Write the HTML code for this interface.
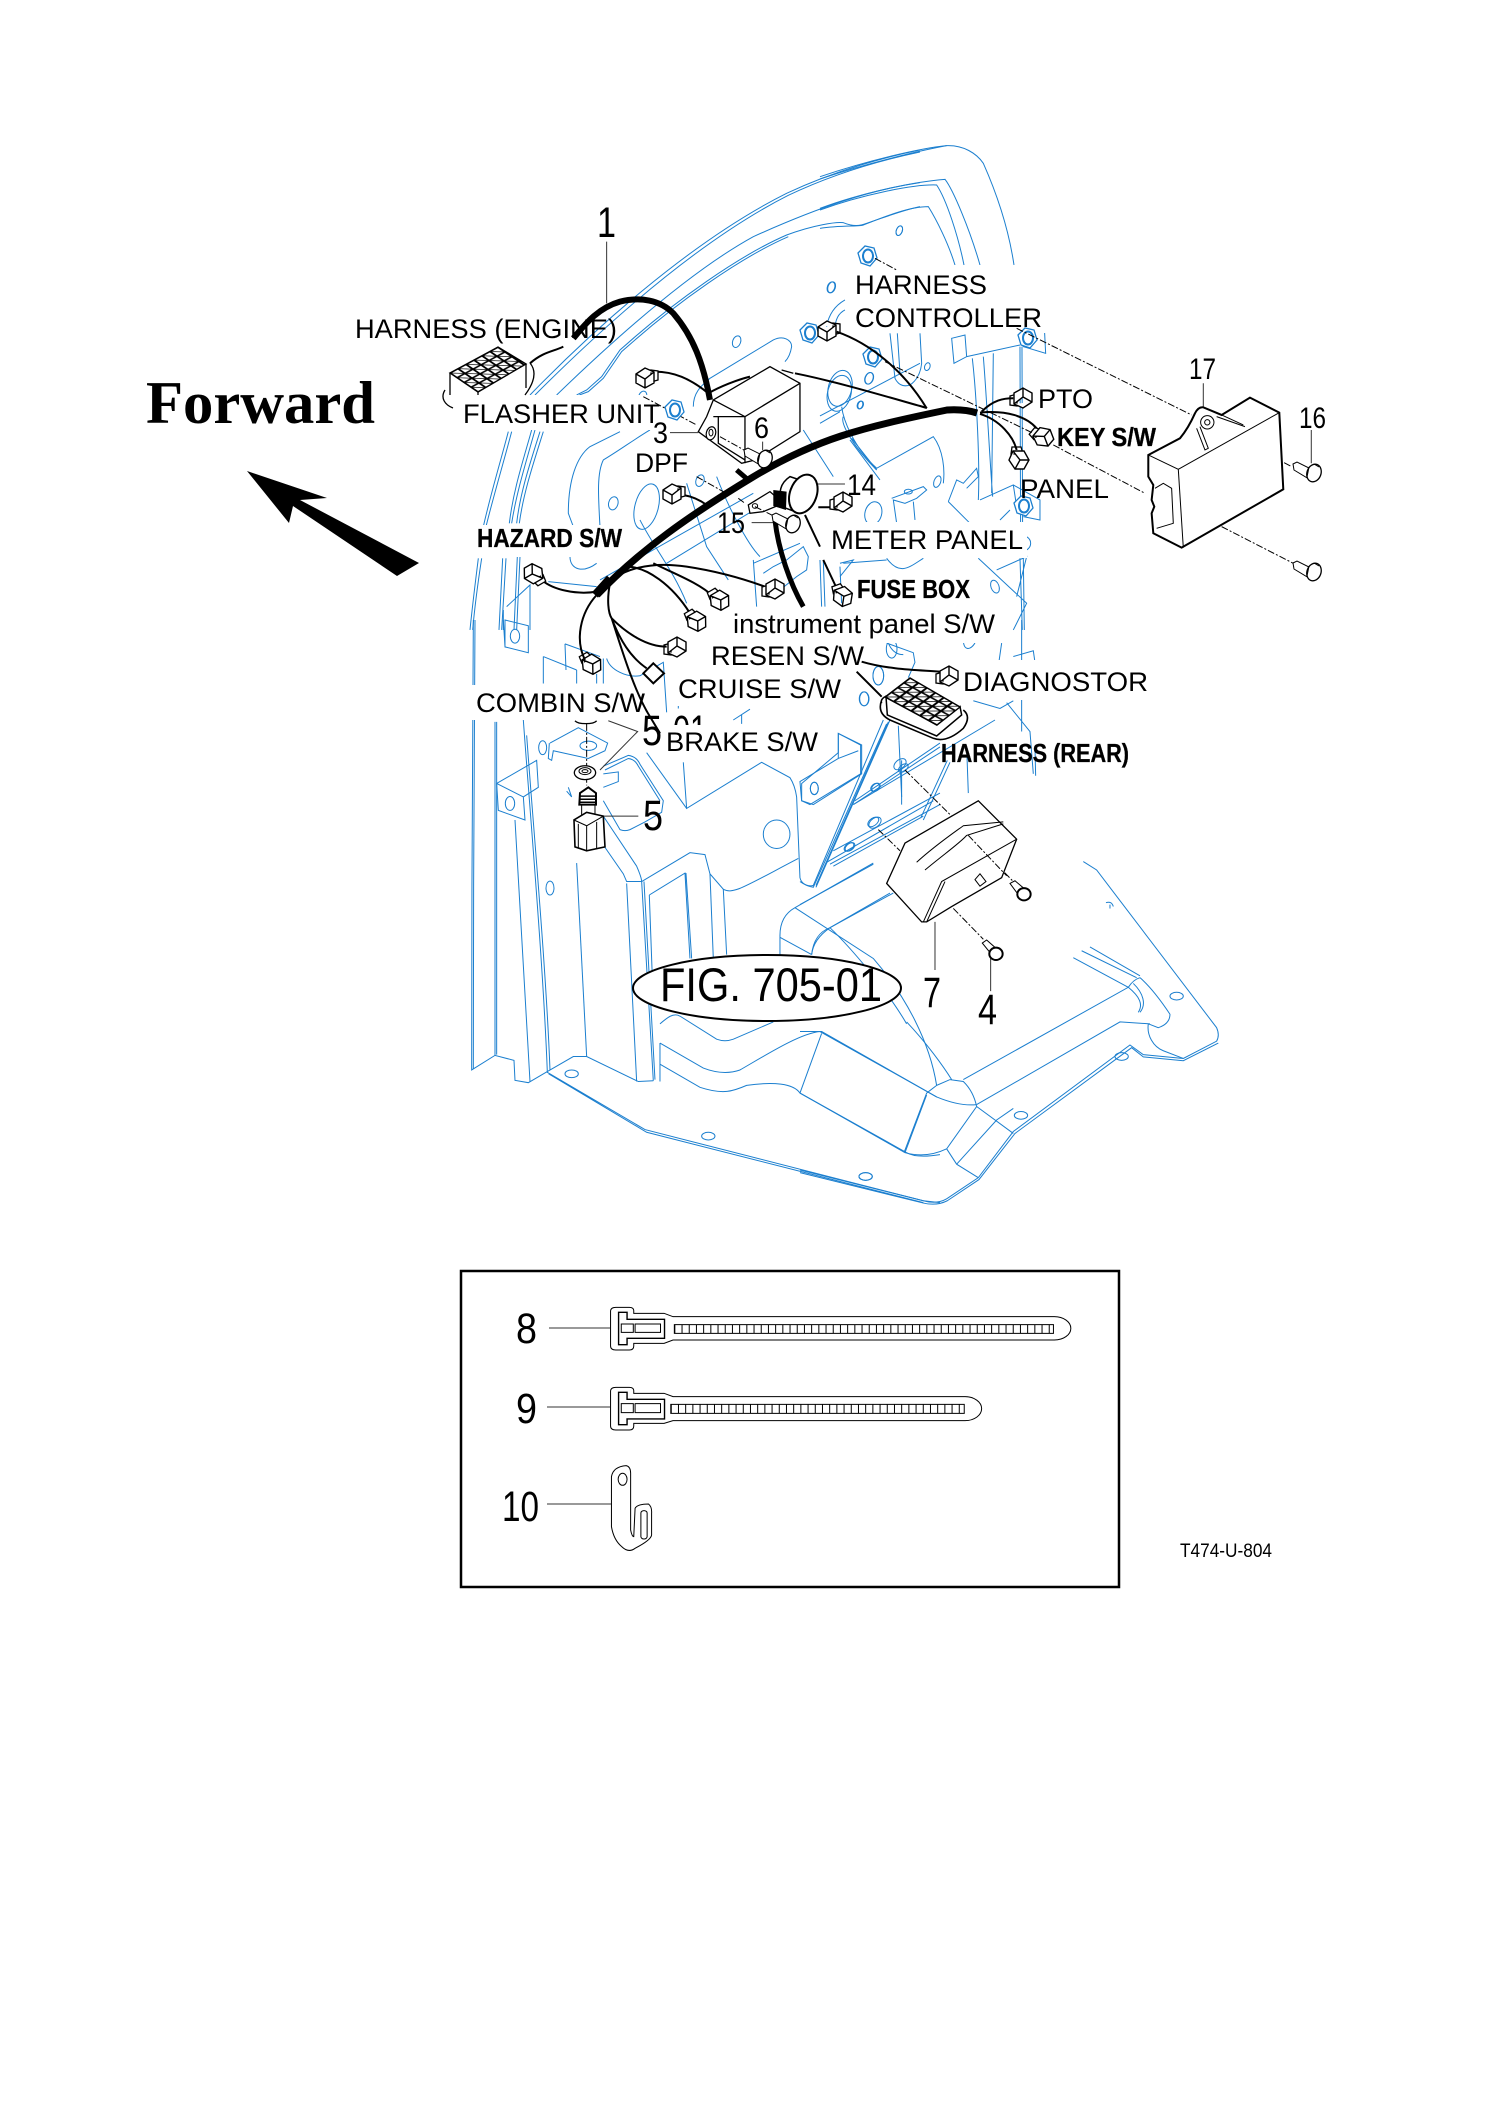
<!DOCTYPE html>
<html><head><meta charset="utf-8"><style>
html,body{margin:0;padding:0;background:#fff}
svg{display:block}
path,line,ellipse,rect,circle,polygon{vector-effect:non-scaling-stroke}
text{font-family:"Liberation Sans",sans-serif;fill:#000}
.b{fill:none;stroke:#1b7fcf;stroke-width:1}
.k{fill:none;stroke:#000;stroke-width:1.3}
.w{fill:none;stroke:#000;stroke-width:2}
.d{fill:none;stroke:#000;stroke-width:1;stroke-dasharray:7 2 2 2}
.l{fill:none;stroke:#333;stroke-width:1}
.m{fill:#fff;stroke:none}
.t{font-size:27px}
.bd{font-size:26px;font-weight:bold;stroke:#000;stroke-width:.3}
.n{font-size:30px}
.N{font-size:43px}
</style></head><body>
<svg xmlns="http://www.w3.org/2000/svg" width="1500" height="2123" viewBox="0 0 1500 2123">
<defs>
<pattern id="g1" patternUnits="userSpaceOnUse" width="10" height="10" patternTransform="matrix(.8,-.43,.7,.475,450,373)"><rect width="10" height="10" fill="#fff" stroke="#000" stroke-width="2.2"/><path d="M0,0L10,10" stroke="#000" stroke-width="1.1"/></pattern>
<pattern id="g2" patternUnits="userSpaceOnUse" width="10" height="10" patternTransform="matrix(.87,.47,.625,-.475,885,697)"><rect width="10" height="10" fill="#fff" stroke="#000" stroke-width="2.2"/><path d="M0,0L10,10" stroke="#000" stroke-width="1.1"/></pattern>
<g id="cube"><path d="M6,-7L13,-6V3L6,5Z" fill="#fff" stroke="#000" stroke-width="1.3"/><path d="M-9,-3L0,-9L9,-5V6L0,11L-9,6Z M-9,-3L0,2L9,-5 M0,2V11" fill="#fff" stroke="#000" stroke-width="1.4"/></g>
<g id="nut"><path d="M-9,-3L-2,-10L7,-8L10,2L3,10L-6,7Z" fill="#fff" stroke="#1b7fcf" stroke-width="1.3"/><ellipse cx="1" cy="0" rx="5" ry="6.5" fill="none" stroke="#1b7fcf" stroke-width="2"/></g>
<g id="bolt"><path d="M-18,-9L-14,-11L2,-3L-2,6L-17,-3Z" fill="#fff" stroke="#000" stroke-width="1"/><ellipse cx="3" cy="0" rx="7" ry="9" transform="rotate(20 3 0)" fill="#fff" stroke="#000" stroke-width="1.3"/><path d="M-2,-6L-4,4 M3,-9L8,-6" stroke="#000" stroke-width="1"/></g>
</defs>

<!-- BLUE: upper left -->
<g transform="matrix(.3333,0,0,.3333,420,130)" class="b">
<path d="M330,795C500,620 800,340 1100,190C1250,120 1400,80 1500,60"/>
<path d="M345,795C510,630 810,345 1105,196C1250,127 1400,87 1500,66"/>
<path d="M410,795C560,650 800,430 1000,320C1200,230 1350,180 1500,158"/>
<path d="M470,795L500,780L545,740L600,660L640,625C760,520 950,380 1100,315C1180,285 1250,275 1270,278C1300,290 1320,288 1340,280C1400,260 1450,240 1500,230"/>
<path d="M478,795L505,785L550,745L605,665L645,630C765,525 955,385 1105,320"/>
<ellipse cx="1438" cy="302" rx="9" ry="15" transform="rotate(20 1438 302)"/>
<ellipse cx="1235" cy="472" rx="11" ry="17" transform="rotate(20 1235 472)"/>
<ellipse cx="950" cy="635" rx="12" ry="18" transform="rotate(20 950 635)"/>
<ellipse cx="668" cy="800" rx="12" ry="17" transform="rotate(20 668 800)"/>
<ellipse cx="1320" cy="825" rx="8" ry="12" transform="rotate(20 1320 825)"/>
<ellipse cx="1347" cy="745" rx="12" ry="18" transform="rotate(20 1347 745)"/>
<ellipse cx="840" cy="1052" rx="12" ry="18" transform="rotate(20 840 1052)"/>
<ellipse cx="580" cy="1120" rx="14" ry="20" transform="rotate(15 580 1120)"/>
<path d="M820,830C820,790 840,770 870,745L1060,630C1090,615 1115,630 1115,650Q1110,680 1095,695"/>
<path d="M1275,510C1240,530 1225,560 1220,590M1275,540C1255,550 1245,570 1245,600"/>
<ellipse cx="1258" cy="790" rx="35" ry="55" transform="rotate(15 1258 790)"/>
<path d="M1200,858L1500,700M1270,860C1260,880 1300,950 1370,1020M1150,900L1240,1040M1290,930L1380,1050"/>
<path d="M275,905C250,1000 220,1100 198,1190M265,905C240,1000 210,1100 190,1190M335,900C310,990 280,1080 268,1180M345,900C320,990 290,1085 275,1180M370,905C340,1000 310,1090 298,1180M360,905C330,1000 300,1090 290,1180"/>
<path d="M185,1285C175,1350 165,1420 158,1500M175,1285C167,1350 158,1420 150,1500M258,1285L245,1500M248,1285L237,1500M300,1280L290,1500M292,1280L282,1500"/>
<path d="M600,905L510,950C470,980 445,1050 445,1150L460,1190M690,900C640,930 600,960 550,990C530,1030 535,1100 540,1190"/>
<path d="M450,1280C450,1320 490,1330 530,1300"/>
<ellipse cx="680" cy="1130" rx="35" ry="70" transform="rotate(15 680 1130)"/>
<path d="M660,1170C700,1250 760,1320 800,1420M540,1350L1000,1090M740,1300L1150,1050M1000,1290L1010,1430M1000,1300L1140,1240M890,1040C920,1120 980,1240 1020,1280M1030,1330L1060,1310L1100,1290L1150,1250L1165,1280L1160,1320L1130,1340L1080,1380M800,1060L860,1250L925,1350"/>
<path d="M260,1430L330,1365L330,1500M250,1440L250,1500M385,1355L530,1370M1210,1290L1215,1430M1200,1290L1205,1430M1270,1300L1400,1290M1260,1310L1265,1420"/>
</g>

<!-- BLUE: upper right -->
<g transform="matrix(.3333,0,0,.3333,820,130)" class="b">
<path d="M0,140C150,90 300,55 380,47C430,45 470,70 490,100C530,190 565,290 582,405"/>
<path d="M0,147C150,97 300,62 380,47"/>
<path d="M0,235C120,190 280,155 375,148C400,180 450,300 480,405M0,240C120,196 280,162 350,165C380,210 415,320 432,405"/>
<path d="M0,295C60,285 120,290 130,285C170,270 260,230 325,230C350,270 385,340 405,405"/>
<ellipse cx="238" cy="302" rx="9" ry="15" transform="rotate(20 238 302)"/>
<ellipse cx="33" cy="472" rx="11" ry="17" transform="rotate(20 33 472)"/>
<ellipse cx="148" cy="745" rx="12" ry="18" transform="rotate(20 148 745)"/>
<ellipse cx="122" cy="825" rx="8" ry="12" transform="rotate(20 122 825)"/>
<ellipse cx="322" cy="710" rx="8" ry="12" transform="rotate(20 322 710)"/>
<ellipse cx="60" cy="775" rx="35" ry="55" transform="rotate(15 60 775)"/>
<path d="M605,565L673,590L677,670L610,650L600,600ZM395,625L435,615L440,680L402,700ZM440,680L600,645M457,685C470,800 480,1000 475,1110M490,680C500,800 510,1000 518,1100M520,670L515,1090M600,650L602,1240M606,650L608,1240"/>
<path d="M210,610L225,745Q240,775 270,765Q300,745 305,700L300,610M232,610L240,730"/>
<path d="M65,830C70,870 100,950 170,1015L340,920C370,960 375,1020 370,1060M95,925L170,1020M0,880L60,845"/>
<path d="M215,1105L310,1070L320,1080L290,1105L255,1120L220,1110L230,1180M280,1115L285,1170"/>
<ellipse cx="265" cy="1085" rx="12" ry="7"/>
<ellipse cx="352" cy="1055" rx="10" ry="18" transform="rotate(20 352 1055)"/>
<ellipse cx="160" cy="1150" rx="25" ry="35" transform="rotate(15 160 1150)"/>
<path d="M480,1110L580,1065L660,1110L660,1170L610,1160M580,1065L590,1130M540,1170L570,1140M385,1115L410,1050L430,1060L470,1015L475,1040L440,1075M385,1115L450,1180"/>
<circle cx="610" cy="1240" r="22"/>
<path d="M475,1285L620,1420L580,1500M530,1320L620,1280L590,1400M60,1300L100,1290L60,1340M200,1285C240,1340 270,1310 310,1285M600,1285L607,1500M610,1285L613,1500"/>
<ellipse cx="525" cy="1370" rx="12" ry="20" transform="rotate(-20 525 1370)"/>
<path d="M495,1500L510,1490"/>
</g>

<!-- BLUE: lower left -->
<g transform="matrix(.3333,0,0,.3846,440,620)" class="b">
<path d="M100,0C97,300 95,800 95,1170L165,1132L222,1145L225,1197L265,1203L320,1175L400,1135L440,1135L595,1200L640,1198"/>
<path d="M105,0C102,300 100,800 100,1167"/>
<path d="M165,265L165,1132M170,265V1130"/>
<path d="M195,0L265,15L265,85L195,70ZM190,0L195,70"/>
<ellipse cx="225" cy="42" rx="14" ry="18"/>
<path d="M170,425L290,365L295,435L250,460L255,520L175,495ZM170,425L250,460"/>
<ellipse cx="210" cy="477" rx="14" ry="18"/>
<path d="M250,260C270,500 310,900 322,1175M260,300C280,540 318,900 330,1170M225,520L270,1200"/>
<ellipse cx="330" cy="697" rx="12" ry="18"/><ellipse cx="308" cy="332" rx="12" ry="18"/>
<path d="M375,62L480,95M310,95L310,165M310,95L410,130M375,62L378,130M410,130V165M490,100V165M470,140V165"/>
<path d="M500,100C510,130 560,150 600,145L670,110L680,240M715,150V230"/>
<path d="M330,320L415,280L503,320L495,340L445,360L340,340L335,365L325,360L328,320"/>
<ellipse cx="445" cy="327" rx="25" ry="12"/>
<path d="M490,380L565,352Q590,355 600,375L670,470L665,500L615,525L570,545Q555,550 540,545L490,470M495,390L565,360Q585,362 595,380L660,470"/>
<path d="M490,400L535,395V420L490,435"/>
<path d="M385,435L395,460L380,445"/>
<path d="M490,510L590,640Q605,670 605,680H560Q555,670 550,660L490,585"/>
<path d="M605,680L750,605L795,610L810,660L850,700C880,715 920,690 1075,620M730,370L740,490L965,370L1050,410Q1065,430 1070,460L1080,670Q1085,690 1120,695L1340,270M1128,695L1350,260"/>
<path d="M620,345L740,490"/>
<ellipse cx="1010" cy="557" rx="40" ry="37"/>
<path d="M1080,420L1195,360V295L1262,325V400L1110,480L1085,470ZM1195,360L1255,340"/>
<ellipse cx="1123" cy="438" rx="12" ry="16"/>
<path d="M560,685L590,1200M605,680L640,1198M612,680L645,1195M628,715L735,658L750,880M738,658L755,880M628,715L640,1000M810,660L820,880M850,700L860,870"/>
<path d="M410,632L440,1135"/>
<path d="M660,1050C680,1035 700,1020 720,1030L830,1090Q855,1098 880,1090L1000,1045"/>
<path d="M660,1100V1200M660,1100L790,1165Q850,1185 900,1170C980,1130 1080,1075 1140,1070L1490,1240"/>
<path d="M660,1155L780,1215C850,1235 880,1225 920,1210C1000,1200 1060,1205 1080,1230L1400,1385Q1430,1400 1500,1390"/>
<path d="M1145,1075L1080,1230M1460,1235L1395,1385"/>
<path d="M1020,870V820C1020,780 1040,760 1065,748L1300,632M1065,748L1300,880C1400,980 1470,1100 1490,1210"/>
<path d="M1115,870C1120,830 1140,810 1170,800L1360,710M1170,800C1230,850 1340,960 1400,1050M1020,825L1115,870"/>
<path d="M320,1175L615,1325L1450,1510L1500,1515M326,1180L620,1332L1450,1515"/>
<ellipse cx="395" cy="1180" rx="20" ry="10"/><ellipse cx="805" cy="1342" rx="20" ry="10"/><ellipse cx="1277" cy="1447" rx="20" ry="10"/>
<path d="M1240,480L1500,330M1245,470L1500,320M1180,600L1500,450M1170,635L1500,480"/>
<ellipse cx="1300" cy="525" rx="18" ry="10" transform="rotate(-30 1300 525)"/><ellipse cx="1230" cy="590" rx="16" ry="9" transform="rotate(-30 1230 590)"/><ellipse cx="1390" cy="385" rx="16" ry="9" transform="rotate(-30 1390 385)"/><ellipse cx="1308" cy="435" rx="14" ry="9" transform="rotate(-30 1308 435)"/><ellipse cx="1272" cy="205" rx="14" ry="18"/><ellipse cx="1315" cy="145" rx="16" ry="24"/>
<path d="M880,260L930,232M905,245V270M1385,365V480"/>
<path d="M1340,60L1420,85L1425,110L1405,150M1345,60Q1360,90 1390,90"/>
</g>

<!-- BLUE: lower right -->
<g transform="matrix(.3333,0,0,.3846,800,620)" class="b">
<path d="M0,1430L370,1510Q410,1520 440,1505L535,1450L640,1330L990,1105L1030,1130L1150,1140L1250,1095Q1260,1080 1250,1060L890,650L850,628"/>
<path d="M0,1437L370,1516Q410,1524 442,1510L537,1455L645,1335L995,1112L1030,1136L1150,1146L1255,1100"/>
<path d="M490,1195L985,955Q1000,935 1020,930M820,878L985,955M845,860L1010,930M870,850L1020,925"/>
<path d="M530,1260L960,1045L1050,1050M1020,930Q1060,960 1110,1025Q1110,1050 1075,1060L1045,1050C1040,1080 1060,1110 1090,1120L1150,1140"/>
<path d="M985,955C1020,980 1030,1000 1015,1020M1000,945C1030,970 1040,1000 1020,1020"/>
<path d="M410,1210L450,1195L490,1200Q520,1225 530,1265L440,1375L470,1415L535,1450M440,1375Q380,1400 315,1385L0,1230M380,1230L312,1385M0,1070L65,1070L410,1240Q480,1265 530,1260M530,1265L640,1335M470,1415L590,1300L640,1270M410,1210L380,1230"/>
<ellipse cx="1130" cy="978" rx="20" ry="10"/><ellipse cx="965" cy="1135" rx="20" ry="10"/><ellipse cx="663" cy="1288" rx="20" ry="10"/><ellipse cx="197" cy="1447" rx="20" ry="10"/>
<path d="M918,735Q935,730 940,745M930,740V750"/>
<path d="M35,870Q40,830 90,800L270,710M320,1045C380,1100 430,1160 455,1195"/>
<path d="M0,740L220,635"/>
<path d="M250,260L40,690Q25,695 0,680M265,265L48,690"/>
<path d="M160,480L585,260M80,630L400,470M100,640L370,510M295,275L305,460M500,330L505,450M705,330L707,405M370,520L450,370M362,515L442,365"/>
<path d="M5,425L115,345V295L185,325V400L40,480L5,470Z"/>
<ellipse cx="43" cy="438" rx="12" ry="16"/>
<ellipse cx="300" cy="375" rx="20" ry="12" transform="rotate(-30 300 375)"/>
<ellipse cx="225" cy="527" rx="20" ry="12" transform="rotate(-30 225 527)"/>
<ellipse cx="147" cy="590" rx="16" ry="9" transform="rotate(-30 147 590)"/>
<ellipse cx="225" cy="435" rx="14" ry="9" transform="rotate(-30 225 435)"/>
<ellipse cx="275" cy="75" rx="16" ry="24"/><ellipse cx="235" cy="145" rx="16" ry="24"/><ellipse cx="193" cy="205" rx="14" ry="18"/>
<path d="M665,0V290M605,60L595,120M640,95L700,80L705,110M620,215L690,290L700,400M520,210L600,230L640,210M490,50C490,80 510,80 525,60"/>
</g>

<!-- label masks -->
<rect class="m" x="453" y="395" width="210" height="35"/>
<rect class="m" x="475" y="525" width="152" height="32"/>
<rect class="m" x="632" y="450" width="60" height="28"/>
<rect class="m" x="822" y="522" width="205" height="36"/>
<rect class="m" x="853" y="575" width="122" height="32"/>
<rect class="m" x="730" y="607" width="270" height="36"/>
<rect class="m" x="708" y="643" width="160" height="30"/>
<rect class="m" x="675" y="672" width="170" height="34"/>
<rect class="m" x="472" y="685" width="190" height="35"/>
<rect class="m" x="852" y="265" width="195" height="68"/>
<rect class="m" x="960" y="660" width="192" height="40"/>

<!-- Forward -->
<text x="146" y="423" font-size="60" font-weight="bold" style="font-family:'Liberation Serif',serif" textLength="229" lengthAdjust="spacingAndGlyphs">Forward</text>
<polygon points="247,471 327,498 300,500 419,563 397,576 293,506 289,523" fill="#000"/>

<!-- engine connector -->
<path d="M450,373V395M478,392V395M526,364V388" class="k"/>
<path d="M530,363Q540,375 525,395M445,390C440,398 445,405 453,408" class="k"/>
<polygon points="450,373 498,347 526,364 478,392" fill="url(#g1)" stroke="#000" stroke-width="1.4"/>

<!-- black wiring upper -->
<g transform="matrix(.3333,0,0,.3333,420,130)">
<path class="w" d="M430,650C400,665 370,665 330,700"/>
<path d="M870,810C850,700 820,620 760,550C720,510 660,500 600,515C530,535 490,590 460,625" fill="none" stroke="#000" stroke-width="6"/>
<path class="w" d="M705,725C760,725 810,745 865,790C900,770 950,750 990,740"/>
<path class="w" d="M1125,730C1250,755 1400,800 1521,834"/>
<path class="w" d="M790,1095C820,1100 840,1110 860,1125"/>
<path class="w" d="M365,1350C400,1380 470,1395 530,1385"/>
<path class="w" d="M545,1380C600,1310 700,1295 800,1310C900,1325 980,1350 1035,1370"/>
<path class="w" d="M700,1300C760,1330 840,1360 880,1400"/>
<path class="w" d="M610,1310C680,1305 760,1370 810,1450"/>
<path class="w" d="M1155,1155L1200,1250M1210,1290L1255,1385M1195,1132H1240"/>
<path class="k" d="M880,810L1050,710L1140,760V905L1005,990L965,1000L835,905L860,860ZM880,810L975,860L1140,760M975,860V1000M880,860H975M895,860V940L975,990M1085,720L1120,730" style="fill:#fff"/>
<ellipse cx="873" cy="910" rx="14" ry="20" fill="#fff" stroke="#000" stroke-width="1.2" transform="rotate(15 873 910)"/>
<ellipse cx="873" cy="908" rx="6" ry="10" fill="none" stroke="#000"/>
<path class="d" d="M670,800L830,885M900,920L990,970"/>
<path class="l" d="M750,908H835M1028,935V960M560,335V520M1190,1062H1275M995,1178H1085"/>
<path d="M525,1395L570,1345" fill="none" stroke="#000" stroke-width="8"/>
<path d="M950,1020L985,1050" fill="none" stroke="#000" stroke-width="5"/>
<path class="d" d="M830,1040L910,1085M955,1105L975,1120"/>
<path d="M1065,1170C1075,1260 1110,1360 1150,1430" fill="none" stroke="#000" stroke-width="5"/>
<path class="k" d="M985,1125L1050,1085L1090,1120L1030,1145L990,1150Z" style="fill:#fff"/>
<ellipse cx="1005" cy="1128" rx="8" ry="7" fill="none" stroke="#000"/>
<path d="M1110,1040C1080,1060 1075,1085 1085,1130L1125,1145L1170,1060Z" fill="#fff" stroke="#000" stroke-width="1.5"/>
<path d="M1060,1080L1100,1085L1098,1140L1060,1128Z" fill="#000"/>
<ellipse cx="1150" cy="1092" rx="40" ry="60" fill="#fff" stroke="#000" stroke-width="2" transform="rotate(20 1150 1092)"/>
<path class="d" d="M1005,1130L1085,1170"/>
</g>
<!-- main harness trunk -->
<path d="M597,595C640,550 690,515 753,477S860,428 947,410Q965,409 977,413" fill="none" stroke="#000" stroke-width="7"/>
<use href="#nut" x="867" y="256"/><use href="#nut" x="809" y="333"/><use href="#nut" x="872" y="357"/><use href="#nut" x="674" y="410"/>
<use href="#nut" x="1027" y="338"/><use href="#nut" x="1023" y="506"/>
<use href="#bolt" x="762" y="459"/><use href="#bolt" x="790" y="524"/>
<use href="#cube" transform="translate(645,377)"/><use href="#cube" transform="translate(672,493)"/><use href="#cube" transform="translate(827,330)"/><use href="#cube" transform="translate(534,573) rotate(60)"/><use href="#cube" transform="translate(775,590) rotate(180)"/><use href="#cube" transform="translate(719,601) rotate(240)"/><use href="#cube" transform="translate(696,622) rotate(240)"/><use href="#cube" transform="translate(842,597) rotate(250)"/><use href="#cube" transform="translate(843,503) rotate(180)"/>
<use href="#cube" transform="translate(1023,399) rotate(180)"/><use href="#cube" transform="translate(1043,438) rotate(220)"/><use href="#cube" transform="translate(1018,460) rotate(270)"/>
<use href="#cube" transform="translate(591,665) rotate(240)"/><use href="#cube" transform="translate(677,648) rotate(180)"/><use href="#cube" transform="translate(949,677) rotate(180)"/>

<!-- upper right black -->
<g transform="matrix(.3333,0,0,.3333,820,130)">
<path class="w" d="M50,605C150,640 250,720 320,835"/>
<path class="w" d="M485,845C520,810 550,805 580,805M480,848C560,840 620,860 650,895M480,852C540,870 580,920 590,960"/>
<path class="d" d="M195,695L640,910M700,945L975,1090M590,595L1115,855M1185,890L1415,1010M1205,1190L1420,1300M165,385L230,420"/>
<path d="M985,975L1080,925Q1105,895 1125,850Q1135,830 1150,832L1205,855L1290,803L1378,848L1390,1078L1085,1253L1000,1210L995,1150L1003,1130L995,1110L1000,1065L985,1040Z" fill="#fff" stroke="#000" stroke-width="2"/>
<path class="k" style="stroke-width:1" d="M985,975L1075,1018L1378,848M1075,1018L1090,1253M1005,1075L1030,1060L1055,1075L1060,1180L1010,1195M1130,895L1155,960L1165,955L1140,890M1190,860L1275,890M1205,855L1270,885"/>
<circle cx="1162" cy="877" r="20" fill="none" stroke="#000"/><circle cx="1162" cy="877" r="8" fill="none" stroke="#000"/>
<path class="l" d="M1150,760V830M1474,900V1000"/>
</g>
<use href="#bolt" x="1311" y="473"/><use href="#bolt" x="1311" y="572"/>

<!-- left wires -->
<g transform="matrix(.3333,0,0,.3333,460,500)">
<path class="w" d="M410,285C360,340 345,420 375,480M450,250C440,300 445,340 455,355C500,400 560,440 620,440M455,355C480,420 510,470 560,505M455,355C480,430 520,570 570,650L600,700"/>
<path d="M580,490L612,520L580,550L550,520Z" fill="#fff" stroke="#000" stroke-width="2"/>
</g>

<!-- rear connector -->
<g transform="matrix(.3333,0,0,.3333,780,480)">
<path class="w" d="M230,575L305,650M245,545C330,570 420,570 480,575"/>
<path class="k" d="M305,660Q290,700 330,720L460,775Q500,790 550,745Q575,710 550,690M315,650Q300,660 305,670" style="stroke-width:1.6"/>
<path d="M318,650L322,705L470,768L545,705L540,680L470,735Z" fill="#fff" stroke="#000" stroke-width="1.5"/>
</g>
<polygon points="885,697 910,678 960,707 937,725" fill="url(#g2)" stroke="#000" stroke-width="1.4"/>

<!-- fitting & ECU -->
<g transform="matrix(.3333,0,0,.3846,440,620)">
<path class="d" d="M440,270V380M440,405V430"/>
<path class="k" d="M405,262C415,272 460,272 470,262"/>
<path class="l" d="M505,262L593,290L480,390M490,510H595"/>
<ellipse cx="435" cy="397" rx="32" ry="18" fill="#fff" stroke="#000" stroke-width="1.3"/>
<ellipse cx="435" cy="393" rx="18" ry="9" fill="none" stroke="#000"/>
<ellipse cx="435" cy="393" rx="9" ry="4" fill="none" stroke="#000"/>
<path d="M420,450L445,435L468,450V480H418Z" fill="#fff" stroke="#000" stroke-width="2"/>
<path d="M420,458H468M420,466H468M420,474H468" stroke="#000" stroke-width="1.5" fill="none"/>
<path d="M425,480V510H465V480" fill="none" stroke="#000"/>
<path d="M402,520L440,500L490,510L495,590L440,600L405,590Z" fill="#fff" stroke="#000" stroke-width="1.6"/>
<path d="M402,520L440,535L490,510M440,535V600M415,530V592M470,525V595" fill="none" stroke="#000"/>
</g>
<g transform="matrix(.3333,0,0,.3846,800,620)">
<path class="d" d="M315,390L490,540M505,560L640,680M235,545L300,600M460,750L550,830"/>
<path d="M260,685L315,580L535,470L650,570L605,670L455,745L380,785H365Z" fill="#fff" stroke="#000" stroke-width="1.3"/>
<path class="k" style="stroke-width:1" d="M370,785L425,680L650,570M380,785L435,680M350,630C400,590 450,560 490,535L610,525M375,650C430,610 480,580 500,560L610,530M525,675L540,660L558,680L540,692Z"/>
<path class="d" d="M505,560L620,665"/>
<path class="l" d="M405,785V910M572,880V965"/>
<path d="M630,685L645,678L675,700L660,720Z" fill="#fff" stroke="#000"/>
<ellipse cx="672" cy="713" rx="20" ry="16" fill="#fff" stroke="#000" stroke-width="2"/>
<path d="M547,840L560,832L590,855L575,870Z" fill="#fff" stroke="#000"/>
<ellipse cx="588" cy="868" rx="20" ry="16" fill="#fff" stroke="#000" stroke-width="2"/>
</g>

<!-- 5-01 partial then BRAKE mask -->
<text class="N" x="673" y="745" textLength="34" lengthAdjust="spacingAndGlyphs">01</text>
<rect class="m" x="665" y="725" width="156" height="34"/>

<!-- FIG -->
<ellipse cx="767" cy="988" rx="134" ry="33" fill="#fff" stroke="#000" stroke-width="2"/>
<text x="660" y="1001" font-size="47" textLength="222" lengthAdjust="spacingAndGlyphs">FIG. 705-01</text>

<!-- labels -->
<text class="t" x="355" y="338" textLength="262" lengthAdjust="spacingAndGlyphs">HARNESS (ENGINE)</text>
<text class="t" x="463" y="423" textLength="197" lengthAdjust="spacingAndGlyphs">FLASHER UNIT</text>
<text class="t" x="635" y="472" textLength="53" lengthAdjust="spacingAndGlyphs">DPF</text>
<text class="bd" x="477" y="547" textLength="145" lengthAdjust="spacingAndGlyphs">HAZARD S/W</text>
<text class="t" x="831" y="549" textLength="192" lengthAdjust="spacingAndGlyphs">METER PANEL</text>
<text class="bd" x="857" y="598" textLength="113" lengthAdjust="spacingAndGlyphs">FUSE BOX</text>
<text class="t" x="733" y="633" textLength="262" lengthAdjust="spacingAndGlyphs">instrument panel S/W</text>
<text class="t" x="711" y="665" textLength="153" lengthAdjust="spacingAndGlyphs">RESEN S/W</text>
<text class="t" x="678" y="698" textLength="163" lengthAdjust="spacingAndGlyphs">CRUISE S/W</text>
<text class="t" x="476" y="712" textLength="169" lengthAdjust="spacingAndGlyphs">COMBIN S/W</text>
<text class="t" x="666" y="751" textLength="152" lengthAdjust="spacingAndGlyphs">BRAKE S/W</text>
<text class="t" x="963" y="691" textLength="185" lengthAdjust="spacingAndGlyphs">DIAGNOSTOR</text>
<text class="bd" x="941" y="762" textLength="188" lengthAdjust="spacingAndGlyphs">HARNESS (REAR)</text>
<text class="t" x="855" y="294" textLength="132" lengthAdjust="spacingAndGlyphs">HARNESS</text>
<text class="t" x="855" y="327" textLength="187" lengthAdjust="spacingAndGlyphs">CONTROLLER</text>
<text class="t" x="1038" y="408" textLength="55" lengthAdjust="spacingAndGlyphs">PTO</text>
<text class="bd" x="1057" y="446" textLength="99" lengthAdjust="spacingAndGlyphs">KEY S/W</text>
<text class="t" x="1020" y="498" textLength="89" lengthAdjust="spacingAndGlyphs">PANEL</text>

<!-- numbers -->
<text class="N" x="597" y="237" textLength="19" lengthAdjust="spacingAndGlyphs">1</text>
<text class="n" x="653" y="443" textLength="15" lengthAdjust="spacingAndGlyphs">3</text>
<text class="n" x="754" y="438" textLength="15" lengthAdjust="spacingAndGlyphs">6</text>
<text class="n" x="847" y="495" textLength="29" lengthAdjust="spacingAndGlyphs">14</text>
<text class="n" x="717" y="533" textLength="28" lengthAdjust="spacingAndGlyphs">15</text>
<text class="n" x="1189" y="379" textLength="27" lengthAdjust="spacingAndGlyphs">17</text>
<text class="n" x="1299" y="428" textLength="27" lengthAdjust="spacingAndGlyphs">16</text>
<text class="N" x="642" y="745" textLength="20" lengthAdjust="spacingAndGlyphs">5</text>
<text class="N" x="643" y="830" textLength="20" lengthAdjust="spacingAndGlyphs">5</text>
<text class="N" x="923" y="1007" textLength="18" lengthAdjust="spacingAndGlyphs">7</text>
<text class="N" x="978" y="1024" textLength="19" lengthAdjust="spacingAndGlyphs">4</text>

<!-- parts box -->
<rect x="461" y="1271" width="658" height="316" fill="none" stroke="#000" stroke-width="2.5"/>
<text class="N" x="516" y="1343" textLength="21" lengthAdjust="spacingAndGlyphs">8</text>
<text class="N" x="516" y="1423" textLength="21" lengthAdjust="spacingAndGlyphs">9</text>
<text class="N" x="502" y="1521" textLength="37" lengthAdjust="spacingAndGlyphs">10</text>
<path class="l" d="M549,1328H610M547,1407H610M547,1504H612"/>
<g transform="matrix(.446,0,0,.3333,450,1260)" fill="none" stroke="#000" stroke-width="1">
<path d="M372,142H402Q412,142 412,152V160H480L500,170H1355A37,35 0 0 1 1355,240H500L480,250H412V258Q412,270 402,270H372Q360,270 360,258V154Q360,142 372,142Z"/>
<path d="M378,157H397V178H481V235H397V254H378Z" stroke-width="1.4"/>
<rect x="384" y="192" width="27" height="25"/><rect x="415" y="192" width="57" height="25"/>
<rect x="503" y="194" width="850" height="26"/>
<path d="M503,207H1353" stroke-width="8" stroke-dasharray="1 6.2"/>
<path d="M372,382H402Q412,382 412,392V400H480L500,410H1155A37,36 0 0 1 1155,482H500L480,490H412V498Q412,510 402,510H372Q360,510 360,498V394Q360,382 372,382Z"/>
<path d="M378,397H397V418H481V477H397V494H378Z" stroke-width="1.4"/>
<rect x="384" y="431" width="27" height="27"/><rect x="415" y="431" width="57" height="27"/>
<rect x="495" y="433" width="658" height="27"/>
<path d="M495,446H1153" stroke-width="9" stroke-dasharray="1 6.2"/>
<path d="M362,650Q366,620 395,617Q405,620 405,640V810Q408,830 412,830L415,745Q420,732 445,732Q453,740 452,760V825Q451,840 415,865Q400,880 385,860Q367,840 362,800Z" fill="#fff"/>
<ellipse cx="387" cy="658" rx="10" ry="18"/>
<rect x="428" y="752" width="14" height="85" rx="7"/>
</g>
<text x="1180" y="1557" font-size="19" textLength="92" lengthAdjust="spacingAndGlyphs">T474-U-804</text>
</svg>
</body></html>
